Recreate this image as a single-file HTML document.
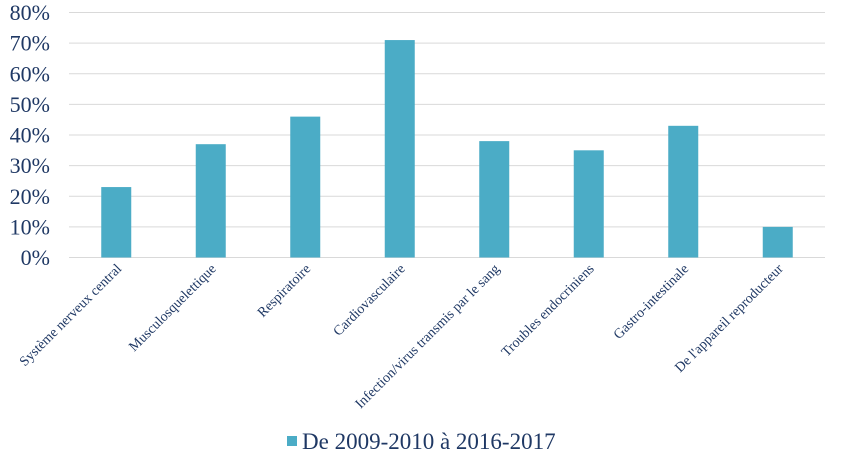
<!DOCTYPE html>
<html><head><meta charset="utf-8"><style>
body{margin:0;background:#fff;}
svg{display:block;font-family:"Liberation Serif",serif;}
</style></head><body>
<svg id="chart" width="842" height="457"></svg>
<script>
const categories=["Système nerveux central","Musculosquelettique","Respiratoire","Cardiovasculaire","Infection/virus transmis par le sang","Troubles endocriniens","Gastro-intestinale","De l'appareil reproducteur"];
const values=[23,37,46,71,38,35,43,10];
const ticks=[0,10,20,30,40,50,60,70,80];
const seriesName="De 2009-2010 à 2016-2017";
const svg=document.getElementById('chart');
const NS="http://www.w3.org/2000/svg";
const L=69,R=825,T=12.5,B=257.5,MAX=80;
const y=v=>B-(B-T)*v/MAX;
const band=(R-L)/categories.length;
const xc=i=>L+band*(i+0.5);
function mk(t,a){const e=document.createElementNS(NS,t);for(const k in a)e.setAttribute(k,a[k]);svg.appendChild(e);return e;}
ticks.forEach(t=>{
  const g=mk('line',{x1:L,x2:R,y1:y(t),y2:y(t),stroke:'#d9d9d9','stroke-width':1});
  
  
  const tx=mk('text',{x:50,y:y(t)+7.5,'text-anchor':'end','font-size':22,fill:'#1f3864'});
  tx.textContent=t+'%';
  
  
});
values.forEach((v,i)=>{
  const b=mk('rect',{x:xc(i)-15,y:y(v),width:30,height:B-y(v),fill:'#4bacc6'});
  
  
  const tx=mk('text',{x:0,y:0,'text-anchor':'end','font-size':14,fill:'#1f3864',transform:`translate(${xc(i)+6},${B+12}) rotate(-45)`});
  tx.textContent=categories[i];
  
  
});
const lg=mk('rect',{x:287,y:436,width:10,height:10,fill:'#4bacc6'});


const lt=mk('text',{x:302,y:449,'font-size':23,fill:'#1f3864'});
lt.textContent=seriesName;


</script>
</body></html>
